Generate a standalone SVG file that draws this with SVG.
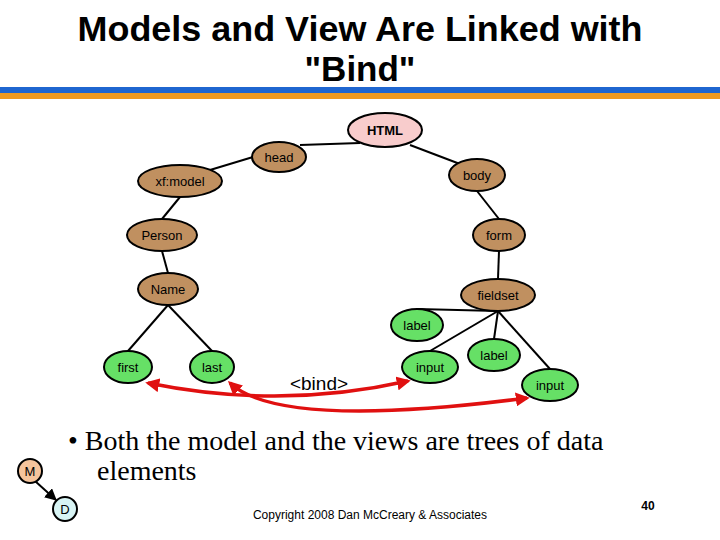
<svg xmlns="http://www.w3.org/2000/svg" width="720" height="540" viewBox="0 0 720 540">
<style>
.t{font-family:"Liberation Sans",Arial,sans-serif;text-anchor:middle;fill:#000}
.n ellipse{stroke:#000;stroke-width:2}
.b ellipse{fill:#c09060}
.g ellipse{fill:#66e066}
.n text{font-family:"Liberation Sans",Arial,sans-serif;font-size:13px;text-anchor:middle;dominant-baseline:central}
.e line{stroke:#000;stroke-width:2}
.r{fill:none;stroke:#e01010;stroke-width:3.5}
</style>
<defs>
<marker id="ah" viewBox="0 0 10 10" refX="8" refY="5" markerWidth="4" markerHeight="4" orient="auto-start-reverse"><path d="M0,0L10,5L0,10z" fill="#e01010"/></marker>
<marker id="ak" viewBox="0 0 10 10" refX="9" refY="5" markerWidth="6" markerHeight="6" orient="auto"><path d="M0,0L10,5L0,10z" fill="#000"/></marker>
</defs>
<rect width="720" height="540" fill="#fff"/>
<text class="t" x="360" y="41" font-size="35" font-weight="bold" textLength="565" lengthAdjust="spacingAndGlyphs">Models and View Are Linked with</text>
<text class="t" x="360" y="81" font-size="35" font-weight="bold">"Bind"</text>
<rect x="0" y="87" width="720" height="6" fill="#1f66d0"/>
<rect x="0" y="93" width="720" height="6" fill="#f09a20"/>
<g id="connectors" class="e">
<line x1="300" y1="145" x2="360" y2="143"/>
<line x1="410" y1="145" x2="460" y2="164"/>
<line x1="253" y1="157" x2="210" y2="170"/>
<line x1="180" y1="197" x2="162" y2="219"/>
<line x1="162" y1="251" x2="168" y2="273"/>
<line x1="168" y1="305" x2="128" y2="351"/>
<line x1="168" y1="305" x2="212" y2="351"/>
<line x1="477" y1="191" x2="499" y2="219"/>
<line x1="499" y1="251" x2="498" y2="279"/>
<line x1="498" y1="311" x2="417" y2="309"/>
<line x1="498" y1="311" x2="430" y2="351"/>
<line x1="498" y1="311" x2="494" y2="339"/>
<line x1="498" y1="311" x2="550" y2="369"/>
<path class="r" d="M148,383 Q280,410 408,381" marker-start="url(#ah)" marker-end="url(#ah)"/>
<path class="r" d="M230,383 Q280,430 527,398" marker-start="url(#ah)" marker-end="url(#ah)"/>
<line x1="35" y1="481" x2="56" y2="500" marker-end="url(#ak)"/>
</g>
<g id="n-html" class="n"><ellipse cx="385" cy="130" rx="37" ry="17" fill="#f8cccc"/><text x="385" y="130" font-weight="bold" font-size="16">HTML</text></g>
<g id="n-head" class="n b"><ellipse cx="279" cy="157" rx="27" ry="15"/><text x="279" y="157">head</text></g>
<g id="n-xfmodel" class="n b"><ellipse cx="180" cy="181" rx="42" ry="16"/><text x="180" y="181">xf:model</text></g>
<g id="n-body" class="n b"><ellipse cx="477" cy="175" rx="28" ry="16"/><text x="477" y="175">body</text></g>
<g id="n-person" class="n b"><ellipse cx="162" cy="235" rx="35" ry="16"/><text x="162" y="235">Person</text></g>
<g id="n-form" class="n b"><ellipse cx="499" cy="235" rx="26" ry="16"/><text x="499" y="235">form</text></g>
<g id="n-name" class="n b"><ellipse cx="168" cy="289" rx="30" ry="16"/><text x="168" y="289">Name</text></g>
<g id="n-fieldset" class="n b"><ellipse cx="498" cy="295" rx="37" ry="16"/><text x="498" y="295">fieldset</text></g>
<g id="n-label1" class="n g"><ellipse cx="417" cy="325" rx="26" ry="16"/><text x="417" y="325">label</text></g>
<g id="n-label2" class="n g"><ellipse cx="494" cy="355" rx="26" ry="16"/><text x="494" y="355">label</text></g>
<g id="n-first" class="n g"><ellipse cx="128" cy="367" rx="24" ry="16"/><text x="128" y="367">first</text></g>
<g id="n-last" class="n g"><ellipse cx="212" cy="367" rx="22" ry="16"/><text x="212" y="367">last</text></g>
<g id="n-input1" class="n g"><ellipse cx="430" cy="367" rx="28" ry="16"/><text x="430" y="367">input</text></g>
<g id="n-input2" class="n g"><ellipse cx="550" cy="385" rx="28" ry="16"/><text x="550" y="385">input</text></g>
<text class="t" x="319" y="390" font-size="19">&lt;bind&gt;</text>
<text x="68" y="450" font-family="'Liberation Serif',serif" font-size="28">• Both the model and the views are trees of data</text>
<text x="97" y="480" font-family="'Liberation Serif',serif" font-size="28">elements</text>
<g id="n-m" class="n"><ellipse cx="30" cy="471" rx="12" ry="12" fill="#f5c49c"/><text x="30" y="471" font-size="12">M</text></g>
<g id="n-d" class="n"><ellipse cx="65" cy="509" rx="12" ry="12" fill="#d8f4f4"/><text x="65" y="509" font-size="12">D</text></g>
<text class="t" x="370" y="519" font-size="12">Copyright 2008 Dan McCreary &amp; Associates</text>
<text class="t" x="648" y="510" font-size="12" font-weight="bold">40</text>
</svg>
